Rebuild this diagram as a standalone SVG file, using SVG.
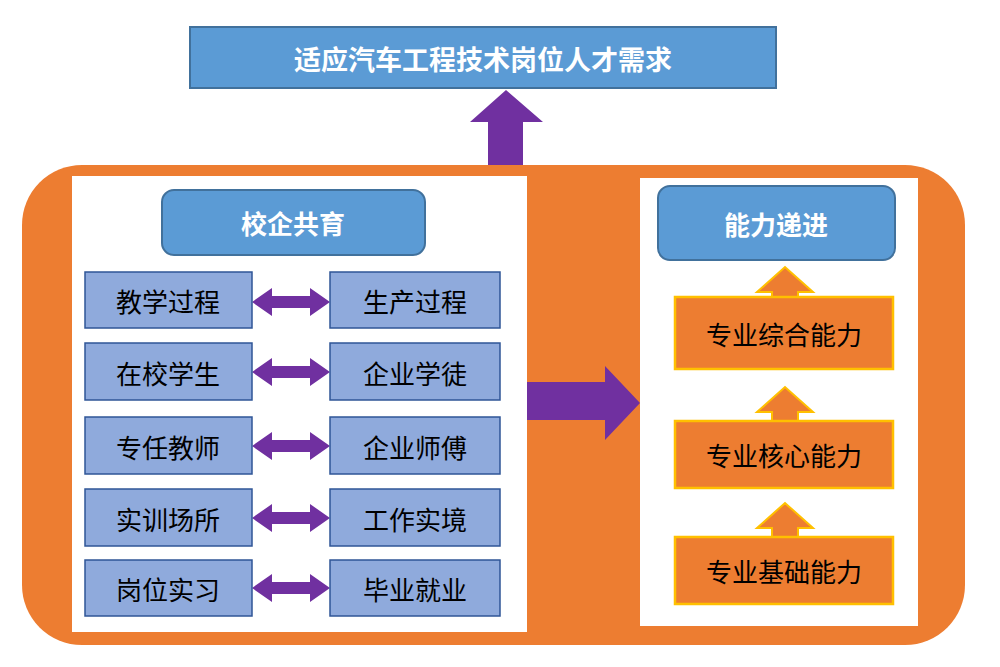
<svg xmlns="http://www.w3.org/2000/svg" width="1000" height="667" viewBox="0 0 1000 667">
<style>
.t{font-family:"Noto Sans CJK SC","Liberation Sans",sans-serif;text-anchor:middle;dominant-baseline:central}
.hd{fill:#5B9BD5;stroke:#41719C;stroke-width:2}
.lb{fill:#8FAADC;stroke:#2F5597;stroke-width:1.5}
.ob{fill:#ED7D31;stroke:#FFC000;stroke-width:2.5}
.pu{fill:#7030A0}
.oa{fill:#ED7D31;stroke:#FFC000;stroke-width:2}
</style>
<rect width="1000" height="667" fill="#fff"/>
<g id="top"><rect class="hd" x="190" y="27" width="586" height="61"/><text class="t" x="483" y="58" font-size="27" font-weight="bold" fill="#fff">适应汽车工程技术岗位人才需求</text></g>
<g id="frame"><rect x="22" y="165" width="943" height="480" rx="60" fill="#ED7D31"/>
<rect x="72" y="176" width="455" height="456" fill="#fff"/>
<rect x="640" y="178" width="278" height="448" fill="#fff"/></g>
<g id="connectors">
<polygon class="pu" points="488,165 488,122 470,122 506,90 543,122 523,122 523,165"/>
<polygon class="pu" points="527,382 605,382 605,366 640,403 605,440 605,420 527,420"/>
<g id="da">
<polygon class="pu" points="252,302 272,288 272,296 310,296 310,288 330,302 310,316 310,308 272,308 272,316"/>
<polygon class="pu" points="252,372 272,358 272,366 310,366 310,358 330,372 310,386 310,378 272,378 272,386"/>
<polygon class="pu" points="252,446 272,432 272,440 310,440 310,432 330,446 310,460 310,452 272,452 272,460"/>
<polygon class="pu" points="252,518 272,504 272,512 310,512 310,504 330,518 310,532 310,524 272,524 272,532"/>
<polygon class="pu" points="252,588 272,574 272,582 310,582 310,574 330,588 310,602 310,594 272,594 272,602"/>
</g>
<polygon class="oa" points="772,297 772,292 757,292 785,267 813,292 798,292 798,297"/>
<polygon class="oa" points="772,421 772,412 757,412 785,387 813,412 798,412 798,421"/>
<polygon class="oa" points="772,537 772,528 757,528 785,503 813,528 798,528 798,537"/>
</g>
<g id="head1"><rect class="hd" x="162" y="190" width="263" height="65" rx="12"/><text class="t" x="293" y="222" font-size="26" font-weight="bold" fill="#fff">校企共育</text></g>
<g id="head2"><rect class="hd" x="658" y="186" width="237" height="74" rx="12"/><text class="t" x="776" y="223" font-size="26" font-weight="bold" fill="#fff">能力递进</text></g>
<g id="left" font-size="26">
<rect class="lb" x="85" y="272" width="167" height="56"/><text class="t" x="168" y="300">教学过程</text>
<rect class="lb" x="85" y="343" width="167" height="57"/><text class="t" x="168" y="372">在校学生</text>
<rect class="lb" x="85" y="417" width="167" height="57"/><text class="t" x="168" y="446">专任教师</text>
<rect class="lb" x="85" y="489" width="167" height="57"/><text class="t" x="168" y="518">实训场所</text>
<rect class="lb" x="85" y="560" width="167" height="56"/><text class="t" x="168" y="588">岗位实习</text>
</g>
<g id="right" font-size="26">
<rect class="lb" x="330" y="272" width="170" height="56"/><text class="t" x="415" y="300">生产过程</text>
<rect class="lb" x="330" y="343" width="170" height="57"/><text class="t" x="415" y="372">企业学徒</text>
<rect class="lb" x="330" y="417" width="170" height="57"/><text class="t" x="415" y="446">企业师傅</text>
<rect class="lb" x="330" y="489" width="170" height="57"/><text class="t" x="415" y="518">工作实境</text>
<rect class="lb" x="330" y="560" width="170" height="56"/><text class="t" x="415" y="588">毕业就业</text>
</g>
<g id="ability" font-size="26">
<rect class="ob" x="675" y="297" width="218" height="72"/><text class="t" x="784" y="333">专业综合能力</text>
<rect class="ob" x="675" y="421" width="218" height="67"/><text class="t" x="784" y="454">专业核心能力</text>
<rect class="ob" x="675" y="537" width="218" height="67"/><text class="t" x="784" y="570">专业基础能力</text>
</g>
</svg>
